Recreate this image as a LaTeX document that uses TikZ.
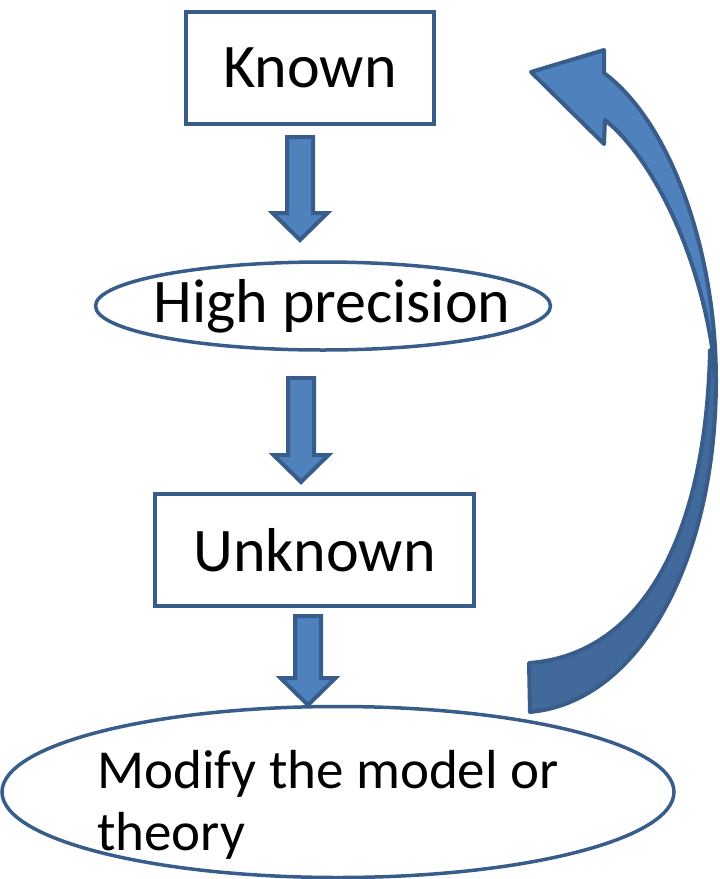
\documentclass[tikz,border=0pt]{standalone}
\usepackage{fontspec}
\setmainfont{Carlito}
\usetikzlibrary{shapes.geometric,calc}
\definecolor{bfill}{HTML}{4F81BD}
\definecolor{bline}{HTML}{385D8A}
\definecolor{bback}{HTML}{41699C}
\tikzset{
  box/.style={draw=bline, line width=3.5pt, fill=white, minimum height=112pt, inner sep=0pt, font=\fontsize{62}{74}\selectfont},
  oval/.style={draw=bline, line width=3.5pt, ellipse, inner sep=0pt},
  bigtext/.style={font=\fontsize{62}{74}\selectfont, inner sep=0pt},
  barrow/.style={draw=bline, fill=bfill, line width=4pt, line join=miter},
  curvefront/.style={draw=bline, fill=bfill, line width=4pt, line join=round},
  curveback/.style={draw=bline, fill=bback, line width=4pt, line join=round},
}
\newcommand\blockarr[2]{\path[barrow] let \p1=(#1), \p2=(#2) in
  (\x1-13pt,\y1) -- (\x1+13pt,\y1) -- (\x1+13pt,\y2+27pt) -- (\x1+27.5pt,\y2+27pt)
  -- (\x1,\y2) -- (\x1-27.5pt,\y2+27pt) -- (\x1-13pt,\y2+27pt) -- cycle;}
\begin{document}
\begin{tikzpicture}[x=1pt,y=-1pt]
\useasboundingbox (0,0) rectangle (720,879);
% nodes
\node[box, minimum width=248pt] (known) at (310,68) {Known};
\node[oval, minimum width=455pt, minimum height=88pt] (hp) at (323,306) {};
\node[bigtext] (hptext) at (332,306) {High precision};
\node[box, minimum width=319pt] (unknown) at (314.5,550) {Unknown};
\node[oval, minimum width=672pt, minimum height=171pt] (modify) at (338,792) {};
\node[anchor=base west, inner sep=0pt, align=left,
      font=\fontsize{55}{62}\selectfont] (modtext) at (97,850)
      {Modify the model or\\theory};
% block arrows
\coordinate (a1s) at (300,137); \coordinate (a1e) at (300,240);
\coordinate (a2s) at (301,378); \coordinate (a2e) at (301,482);
\coordinate (a3s) at (308,616); \coordinate (a3e) at (308,705);
\blockarr{a1s}{a1e}
\blockarr{a2s}{a2e}
\blockarr{a3s}{a3e}
% curved return arrow
\path[curveback] (716,380) .. controls (716,560) and (640,702) .. (530,712)
  -- (529,663) .. controls (640,655) and (706,540) .. (710,350) -- cycle;
\path[curvefront] (605,120) -- (604,144) -- (531,72) -- (604,50) -- (604,73)
  .. controls (670,122) and (716,250) .. (716,380)
  .. controls (706,265) and (655,160) .. (605,120) -- cycle;
\end{tikzpicture}
\end{document}
